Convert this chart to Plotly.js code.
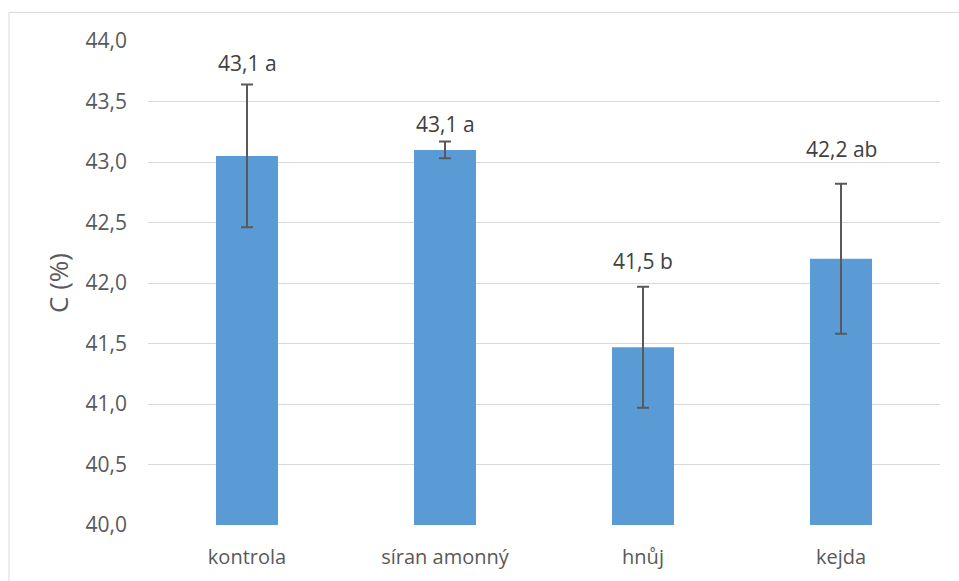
<!DOCTYPE html>
<html>
<head>
<meta charset="utf-8">
<script src="https://cdn.plot.ly/plotly-3.0.1.min.js"></script>
<style>html,body{margin:0;padding:0;background:#fff;}#chart{width:959px;height:581px;}</style>
</head>
<body>
<div id="chart"></div>
<script>
const categories = ["kontrola", "síran amonný", "hnůj", "kejda"];
const values = [43.05, 43.10, 41.47, 42.20];
const errors = [0.59, 0.07, 0.50, 0.62];
const labels = ["43,1 a", "43,1 a", "41,5 b", "42,2 ab"];
const yTickVals = [40.0, 40.5, 41.0, 41.5, 42.0, 42.5, 43.0, 43.5, 44.0];
const yTickText = ["40,0", "40,5", "41,0", "41,5", "42,0", "42,5", "43,0", "43,5", "44,0"];
const labelShift = [22, 17, 26, 35];

const trace = {
  type: "bar",
  x: categories,
  y: values,
  marker: {color: "#5b9bd5"},
  error_y: {type: "data", array: errors, visible: true, color: "#595959", thickness: 2, width: 6},
  hoverinfo: "none"
};

const annotations = categories.map((c, i) => ({
  x: c, y: values[i] + errors[i], xref: "x", yref: "y",
  text: labels[i], showarrow: false, yanchor: "middle", yshift: labelShift[i],
  font: {family: "Open Sans", size: 21, color: "#404040"}
}));

const layout = {
  width: 959, height: 581,
  margin: {l: 148, r: 19, t: 41, b: 56},
  paper_bgcolor: "#ffffff", plot_bgcolor: "#ffffff",
  bargap: 0.687,
  showlegend: false,
  font: {family: "Open Sans", size: 20, color: "#595959"},
  xaxis: {
    showgrid: false, zeroline: false, showline: false, ticks: "",
    ticklabelstandoff: 18,
    tickfont: {family: "Open Sans", size: 20, color: "#595959"}
  },
  yaxis: {
    range: [40, 44], tickvals: yTickVals, ticktext: yTickText,
    showgrid: true, gridcolor: "#d9d9d9", gridwidth: 1,
    zeroline: false, showline: false, ticks: "",
    ticklabelstandoff: 20,
    tickfont: {family: "Open Sans", size: 21, color: "#595959"},
    title: {text: "C (%)", standoff: 9, font: {family: "Open Sans", size: 26, color: "#595959"}}
  },
  annotations: annotations,
  shapes: [{
    type: "rect", xref: "paper", yref: "paper",
    x0: -0.1755, x1: 1.2, y0: -0.3, y1: 1.059,
    line: {color: "#d9d9d9", width: 1}, fillcolor: "rgba(0,0,0,0)", layer: "below"
  }]
};

Plotly.newPlot("chart", [trace], layout, {staticPlot: true, displayModeBar: false});
</script>
</body>
</html>
